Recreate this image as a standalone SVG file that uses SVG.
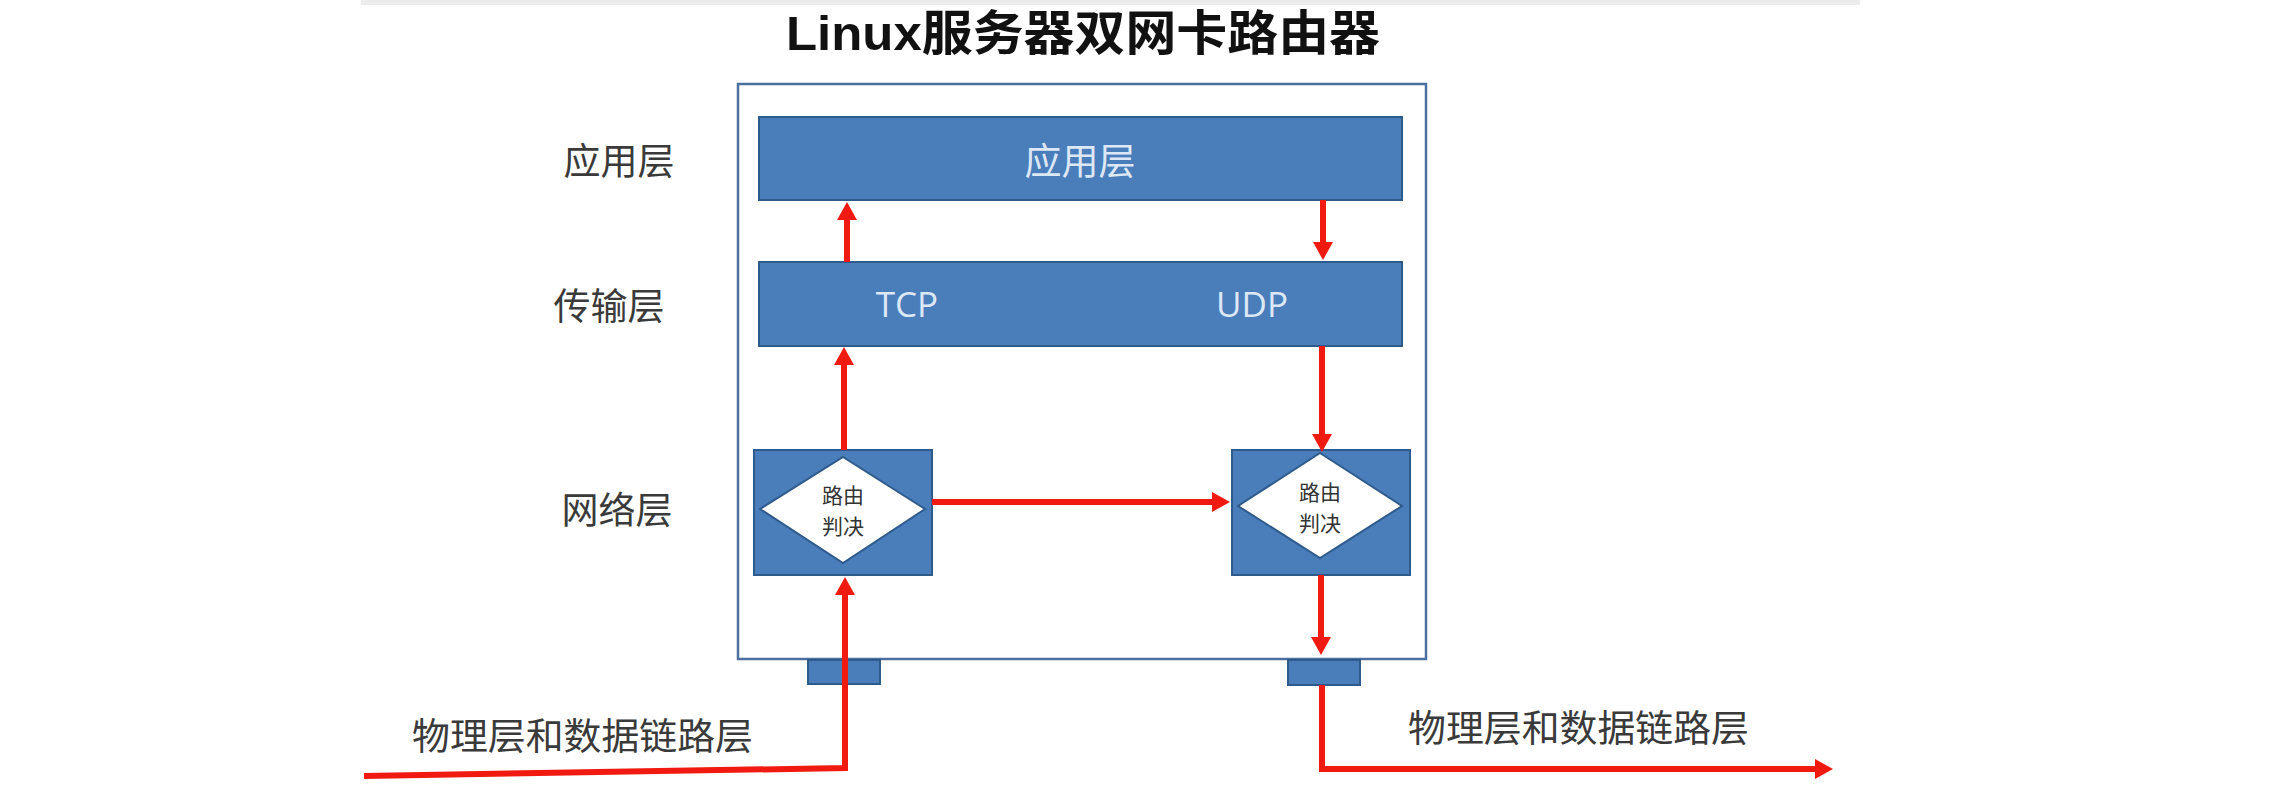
<svg xmlns="http://www.w3.org/2000/svg" width="2294" height="792" viewBox="0 0 2294 792">
<style>
.blk{fill:#4a7ebb;stroke:#2f5a8c;stroke-width:2}
.lbl{font-family:"Noto Sans CJK SC","Liberation Sans",sans-serif;font-size:37px;fill:#3a3a3a;text-anchor:middle}
.in{font-family:"Open Sans","Liberation Sans","Noto Sans CJK SC",sans-serif;font-size:35px;fill:#dde8f6;text-anchor:middle}
.inz{font-family:"Noto Sans CJK SC",sans-serif;font-size:37px;fill:#dde8f6;text-anchor:middle}
.dia{fill:#ffffff;stroke:#2f5a8c;stroke-width:2}
.dt{font-family:"Noto Sans CJK SC",sans-serif;font-size:21px;fill:#333333;text-anchor:middle}
.ar{fill:none;stroke:#f01a10;stroke-width:6;marker-end:url(#ah)}
</style>
<defs>
<marker id="ah" viewBox="0 0 18 20" refX="6" refY="10" markerWidth="18" markerHeight="20" markerUnits="userSpaceOnUse" orient="auto">
<path d="M0,0 L18,10 L0,20 Z" fill="#f01a10"/>
</marker>
</defs>
<rect x="0" y="0" width="2294" height="792" fill="#ffffff"/>
<rect x="361" y="0" width="1499" height="5" fill="#ececec"/>
<g id="title">
<text x="786" y="50" textLength="594" lengthAdjust="spacingAndGlyphs" style="font-family:'Liberation Sans','Noto Sans CJK SC',sans-serif;font-weight:bold;font-size:48px;fill:#111">Linux服务器双网卡路由器</text>
</g>
<g id="labels">
<text class="lbl" x="619" y="175">应用层</text>
<text class="lbl" x="609" y="320">传输层</text>
<text class="lbl" x="617" y="524">网络层</text>
<text class="lbl" x="412" y="750" style="text-anchor:start" textLength="341" lengthAdjust="spacingAndGlyphs">物理层和数据链路层</text>
<text class="lbl" x="1408" y="742" style="text-anchor:start" textLength="341" lengthAdjust="spacingAndGlyphs">物理层和数据链路层</text>
</g>
<g id="server">
<rect x="738" y="84" width="688" height="575" fill="#ffffff" stroke="#4d6f9e" stroke-width="2.5"/>
</g>
<g id="app-layer">
<rect class="blk" x="759" y="117" width="643" height="83"/>
<text class="inz" x="1080" y="175">应用层</text>
</g>
<g id="transport-layer">
<rect class="blk" x="759" y="262" width="643" height="84"/>
<text class="in" x="907" y="317">TCP</text>
<text class="in" x="1252" y="317">UDP</text>
</g>
<g id="route-left">
<rect class="blk" x="754" y="450" width="178" height="125"/>
<polygon class="dia" points="843,457 925,509 843,563 760,509"/>
<text class="dt" x="843" y="503">路由</text>
<text class="dt" x="843" y="534">判决</text>
</g>
<g id="route-right">
<rect class="blk" x="1232" y="450" width="178" height="125"/>
<polygon class="dia" points="1320,453 1402,506 1320,558 1238,506"/>
<text class="dt" x="1320" y="500">路由</text>
<text class="dt" x="1320" y="531">判决</text>
</g>
<g id="nic-left">
<rect class="blk" x="808" y="660" width="72" height="24"/>
</g>
<g id="nic-right">
<rect class="blk" x="1288" y="660" width="72" height="25"/>
</g>
<g id="connectors">
<path class="ar" d="M364,776 L845,768 L845,589"/>
<path class="ar" d="M844,450 L844,359"/>
<path class="ar" d="M847,262 L847,214"/>
<path class="ar" d="M1323,200 L1323,248"/>
<path class="ar" d="M1322,346 L1322,440"/>
<path class="ar" d="M932,502 L1218,502"/>
<path class="ar" d="M1321,575 L1321,643"/>
<path class="ar" d="M1322,685 L1322,769 L1821,769"/>
</g>
</svg>
